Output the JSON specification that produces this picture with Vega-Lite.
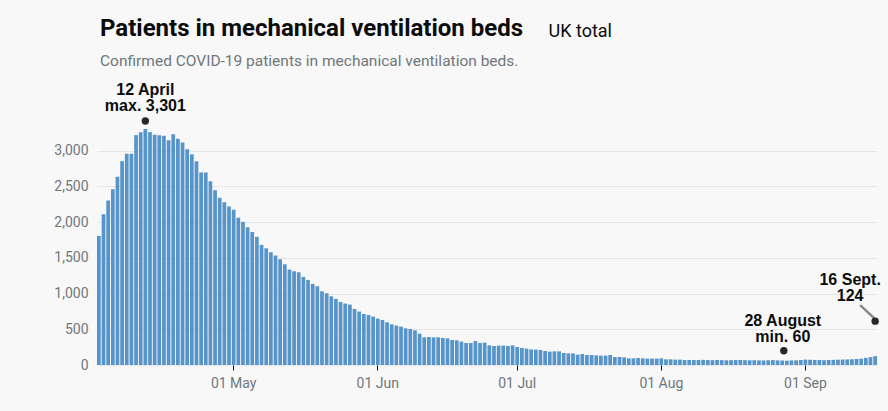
{
  "$schema": "https://vega.github.io/schema/vega-lite/v6.json",
  "width": 780,
  "height": 236,
  "autosize": {"type": "none"},
  "padding": {"left": 97, "top": 129, "right": 11, "bottom": 46},
  "background": "#f8f8f8",
  "config": {
    "view": {"stroke": null},
    "font": "Roboto",
    "axis": {
      "labelColor": "#6f777b",
      "labelFont": "Roboto",
      "labelFontSize": 14
    }
  },
  "title": {
    "text": "Patients in mechanical ventilation beds",
    "subtitle": "Confirmed COVID-19 patients in mechanical ventilation beds.",
    "anchor": "start",
    "frame": "group",
    "offset": -47,
    "dx": 3,
    "font": "Roboto",
    "fontSize": 24,
    "fontWeight": "bold",
    "color": "#0b0c0c",
    "subtitleFont": "Roboto",
    "subtitleFontSize": 15.5,
    "subtitleColor": "#6f777b",
    "subtitlePadding": 13
  },
  "datasets": {
    "beds": [
      {"date": "2020-04-02", "value": 1806},
      {"date": "2020-04-03", "value": 2109},
      {"date": "2020-04-04", "value": 2301},
      {"date": "2020-04-05", "value": 2459},
      {"date": "2020-04-06", "value": 2632},
      {"date": "2020-04-07", "value": 2851},
      {"date": "2020-04-08", "value": 2954},
      {"date": "2020-04-09", "value": 2954},
      {"date": "2020-04-10", "value": 3215},
      {"date": "2020-04-11", "value": 3257},
      {"date": "2020-04-12", "value": 3301},
      {"date": "2020-04-13", "value": 3257},
      {"date": "2020-04-14", "value": 3220},
      {"date": "2020-04-15", "value": 3215},
      {"date": "2020-04-16", "value": 3206},
      {"date": "2020-04-17", "value": 3145},
      {"date": "2020-04-18", "value": 3229},
      {"date": "2020-04-19", "value": 3164},
      {"date": "2020-04-20", "value": 3113},
      {"date": "2020-04-21", "value": 3019},
      {"date": "2020-04-22", "value": 2949},
      {"date": "2020-04-23", "value": 2851},
      {"date": "2020-04-24", "value": 2693},
      {"date": "2020-04-25", "value": 2693},
      {"date": "2020-04-26", "value": 2571},
      {"date": "2020-04-27", "value": 2445},
      {"date": "2020-04-28", "value": 2338},
      {"date": "2020-04-29", "value": 2277},
      {"date": "2020-04-30", "value": 2217},
      {"date": "2020-05-01", "value": 2170},
      {"date": "2020-05-02", "value": 2058},
      {"date": "2020-05-03", "value": 2002},
      {"date": "2020-05-04", "value": 1927},
      {"date": "2020-05-05", "value": 1862},
      {"date": "2020-05-06", "value": 1792},
      {"date": "2020-05-07", "value": 1680},
      {"date": "2020-05-08", "value": 1633},
      {"date": "2020-05-09", "value": 1577},
      {"date": "2020-05-10", "value": 1531},
      {"date": "2020-05-11", "value": 1479},
      {"date": "2020-05-12", "value": 1409},
      {"date": "2020-05-13", "value": 1335},
      {"date": "2020-05-14", "value": 1311},
      {"date": "2020-05-15", "value": 1297},
      {"date": "2020-05-16", "value": 1232},
      {"date": "2020-05-17", "value": 1190},
      {"date": "2020-05-18", "value": 1134},
      {"date": "2020-05-19", "value": 1101},
      {"date": "2020-05-20", "value": 1031},
      {"date": "2020-05-21", "value": 1003},
      {"date": "2020-05-22", "value": 961},
      {"date": "2020-05-23", "value": 924},
      {"date": "2020-05-24", "value": 882},
      {"date": "2020-05-25", "value": 859},
      {"date": "2020-05-26", "value": 845},
      {"date": "2020-05-27", "value": 784},
      {"date": "2020-05-28", "value": 747},
      {"date": "2020-05-29", "value": 714},
      {"date": "2020-05-30", "value": 700},
      {"date": "2020-05-31", "value": 677},
      {"date": "2020-06-01", "value": 649},
      {"date": "2020-06-02", "value": 630},
      {"date": "2020-06-03", "value": 597},
      {"date": "2020-06-04", "value": 569},
      {"date": "2020-06-05", "value": 551},
      {"date": "2020-06-06", "value": 537},
      {"date": "2020-06-07", "value": 513},
      {"date": "2020-06-08", "value": 504},
      {"date": "2020-06-09", "value": 485},
      {"date": "2020-06-10", "value": 439},
      {"date": "2020-06-11", "value": 387},
      {"date": "2020-06-12", "value": 392},
      {"date": "2020-06-13", "value": 387},
      {"date": "2020-06-14", "value": 387},
      {"date": "2020-06-15", "value": 378},
      {"date": "2020-06-16", "value": 373},
      {"date": "2020-06-17", "value": 350},
      {"date": "2020-06-18", "value": 345},
      {"date": "2020-06-19", "value": 327},
      {"date": "2020-06-20", "value": 308},
      {"date": "2020-06-21", "value": 308},
      {"date": "2020-06-22", "value": 336},
      {"date": "2020-06-23", "value": 308},
      {"date": "2020-06-24", "value": 313},
      {"date": "2020-06-25", "value": 275},
      {"date": "2020-06-26", "value": 266},
      {"date": "2020-06-27", "value": 271},
      {"date": "2020-06-28", "value": 271},
      {"date": "2020-06-29", "value": 266},
      {"date": "2020-06-30", "value": 275},
      {"date": "2020-07-01", "value": 252},
      {"date": "2020-07-02", "value": 238},
      {"date": "2020-07-03", "value": 229},
      {"date": "2020-07-04", "value": 219},
      {"date": "2020-07-05", "value": 215},
      {"date": "2020-07-06", "value": 210},
      {"date": "2020-07-07", "value": 196},
      {"date": "2020-07-08", "value": 187},
      {"date": "2020-07-09", "value": 191},
      {"date": "2020-07-10", "value": 191},
      {"date": "2020-07-11", "value": 168},
      {"date": "2020-07-12", "value": 163},
      {"date": "2020-07-13", "value": 163},
      {"date": "2020-07-14", "value": 145},
      {"date": "2020-07-15", "value": 154},
      {"date": "2020-07-16", "value": 140},
      {"date": "2020-07-17", "value": 140},
      {"date": "2020-07-18", "value": 135},
      {"date": "2020-07-19", "value": 131},
      {"date": "2020-07-20", "value": 131},
      {"date": "2020-07-21", "value": 140},
      {"date": "2020-07-22", "value": 112},
      {"date": "2020-07-23", "value": 112},
      {"date": "2020-07-24", "value": 107},
      {"date": "2020-07-25", "value": 93},
      {"date": "2020-07-26", "value": 93},
      {"date": "2020-07-27", "value": 98},
      {"date": "2020-07-28", "value": 93},
      {"date": "2020-07-29", "value": 89},
      {"date": "2020-07-30", "value": 89},
      {"date": "2020-07-31", "value": 89},
      {"date": "2020-08-01", "value": 93},
      {"date": "2020-08-02", "value": 79},
      {"date": "2020-08-03", "value": 79},
      {"date": "2020-08-04", "value": 75},
      {"date": "2020-08-05", "value": 75},
      {"date": "2020-08-06", "value": 70},
      {"date": "2020-08-07", "value": 70},
      {"date": "2020-08-08", "value": 70},
      {"date": "2020-08-09", "value": 70},
      {"date": "2020-08-10", "value": 72},
      {"date": "2020-08-11", "value": 69},
      {"date": "2020-08-12", "value": 68},
      {"date": "2020-08-13", "value": 70},
      {"date": "2020-08-14", "value": 68},
      {"date": "2020-08-15", "value": 66},
      {"date": "2020-08-16", "value": 67},
      {"date": "2020-08-17", "value": 69},
      {"date": "2020-08-18", "value": 70},
      {"date": "2020-08-19", "value": 68},
      {"date": "2020-08-20", "value": 66},
      {"date": "2020-08-21", "value": 67},
      {"date": "2020-08-22", "value": 65},
      {"date": "2020-08-23", "value": 64},
      {"date": "2020-08-24", "value": 66},
      {"date": "2020-08-25", "value": 68},
      {"date": "2020-08-26", "value": 65},
      {"date": "2020-08-27", "value": 63},
      {"date": "2020-08-28", "value": 60},
      {"date": "2020-08-29", "value": 64},
      {"date": "2020-08-30", "value": 66},
      {"date": "2020-08-31", "value": 70},
      {"date": "2020-09-01", "value": 75},
      {"date": "2020-09-02", "value": 73},
      {"date": "2020-09-03", "value": 71},
      {"date": "2020-09-04", "value": 70},
      {"date": "2020-09-05", "value": 68},
      {"date": "2020-09-06", "value": 70},
      {"date": "2020-09-07", "value": 72},
      {"date": "2020-09-08", "value": 74},
      {"date": "2020-09-09", "value": 76},
      {"date": "2020-09-10", "value": 78},
      {"date": "2020-09-11", "value": 80},
      {"date": "2020-09-12", "value": 84},
      {"date": "2020-09-13", "value": 88},
      {"date": "2020-09-14", "value": 100},
      {"date": "2020-09-15", "value": 110},
      {"date": "2020-09-16", "value": 124}
    ],
    "notes": [
      {"date": "2020-04-12", "value": 3301, "label": "12 April\nmax. 3,301", "kind": "max"},
      {"date": "2020-08-28", "value": 60, "label": "28 August\nmin. 60", "kind": "min"},
      {"date": "2020-09-16", "value": 124, "label": "16 Sept.\n124", "kind": "last"}
    ]
  },
  "encoding": {
    "x": {
      "field": "date",
      "type": "ordinal",
      "scale": {"paddingInner": 0.2, "paddingOuter": 0},
      "axis": {
        "title": null,
        "values": ["2020-05-01", "2020-06-01", "2020-07-01", "2020-08-01", "2020-09-01"],
        "labelExpr": "utcFormat(toDate(datum.value), '%d %b')",
        "labelAngle": 0,
        "domain": false,
        "ticks": true,
        "tickColor": "#0b0c0c",
        "tickSize": 5,
        "labelPadding": 6,
        "grid": false
      }
    },
    "y": {
      "field": "value",
      "type": "quantitative",
      "scale": {"domain": [0, 3301], "nice": false},
      "axis": {
        "title": "UK total",
        "titleAngle": 0,
        "titleX": 451,
        "titleY": -93,
        "titleAlign": "left",
        "titleBaseline": "alphabetic",
        "titleFont": "Roboto",
        "titleFontSize": 18,
        "titleFontWeight": "normal",
        "titleColor": "#0b0c0c",
        "values": [0, 500, 1000, 1500, 2000, 2500, 3000],
        "format": ",.0f",
        "domain": false,
        "ticks": false,
        "labelPadding": 9,
        "gridColor": "#e6e6e6"
      }
    }
  },
  "layer": [
    {
      "data": {"name": "beds"},
      "mark": {"type": "bar", "color": "#5694ca"}
    },
    {
      "data": {"name": "notes"},
      "transform": [{"filter": "datum.kind === 'max'"}],
      "layer": [
        {"mark": {"type": "point", "filled": true, "color": "#111", "opacity": 0.9, "size": 55, "yOffset": -8}},
        {"mark": {"type": "text", "font": "Liberation Sans", "fontSize": 16, "fontWeight": "bold", "color": "#0b0c0c", "baseline": "bottom", "lineBreak": "\n", "lineHeight": 16, "dy": -31}, "encoding": {"text": {"field": "label"}}}
      ]
    },
    {
      "data": {"name": "notes"},
      "transform": [{"filter": "datum.kind === 'min'"}],
      "layer": [
        {"mark": {"type": "point", "filled": true, "color": "#111", "opacity": 0.9, "size": 55, "xOffset": -3, "yOffset": -10}},
        {"mark": {"type": "text", "font": "Liberation Sans", "fontSize": 16, "fontWeight": "bold", "color": "#0b0c0c", "baseline": "bottom", "lineBreak": "\n", "lineHeight": 16, "dx": -4, "dy": -32}, "encoding": {"text": {"field": "label"}}}
      ]
    },
    {
      "data": {"name": "notes"},
      "transform": [{"filter": "datum.kind === 'last'"}],
      "layer": [
        {"mark": {"type": "rule", "color": "#888888", "strokeWidth": 2.5, "xOffset": -15, "yOffset": -51, "x2Offset": -1, "y2Offset": -38}, "encoding": {"x2": {"field": "date"}, "y2": {"field": "value"}}},
        {"mark": {"type": "point", "filled": true, "color": "#111", "opacity": 0.9, "size": 55, "yOffset": -35}},
        {"mark": {"type": "text", "font": "Liberation Sans", "fontSize": 16, "fontWeight": "bold", "color": "#0b0c0c", "baseline": "bottom", "lineBreak": "\n", "lineHeight": 16, "dx": -25, "dy": -68}, "encoding": {"text": {"field": "label"}}}
      ]
    }
  ]
}
